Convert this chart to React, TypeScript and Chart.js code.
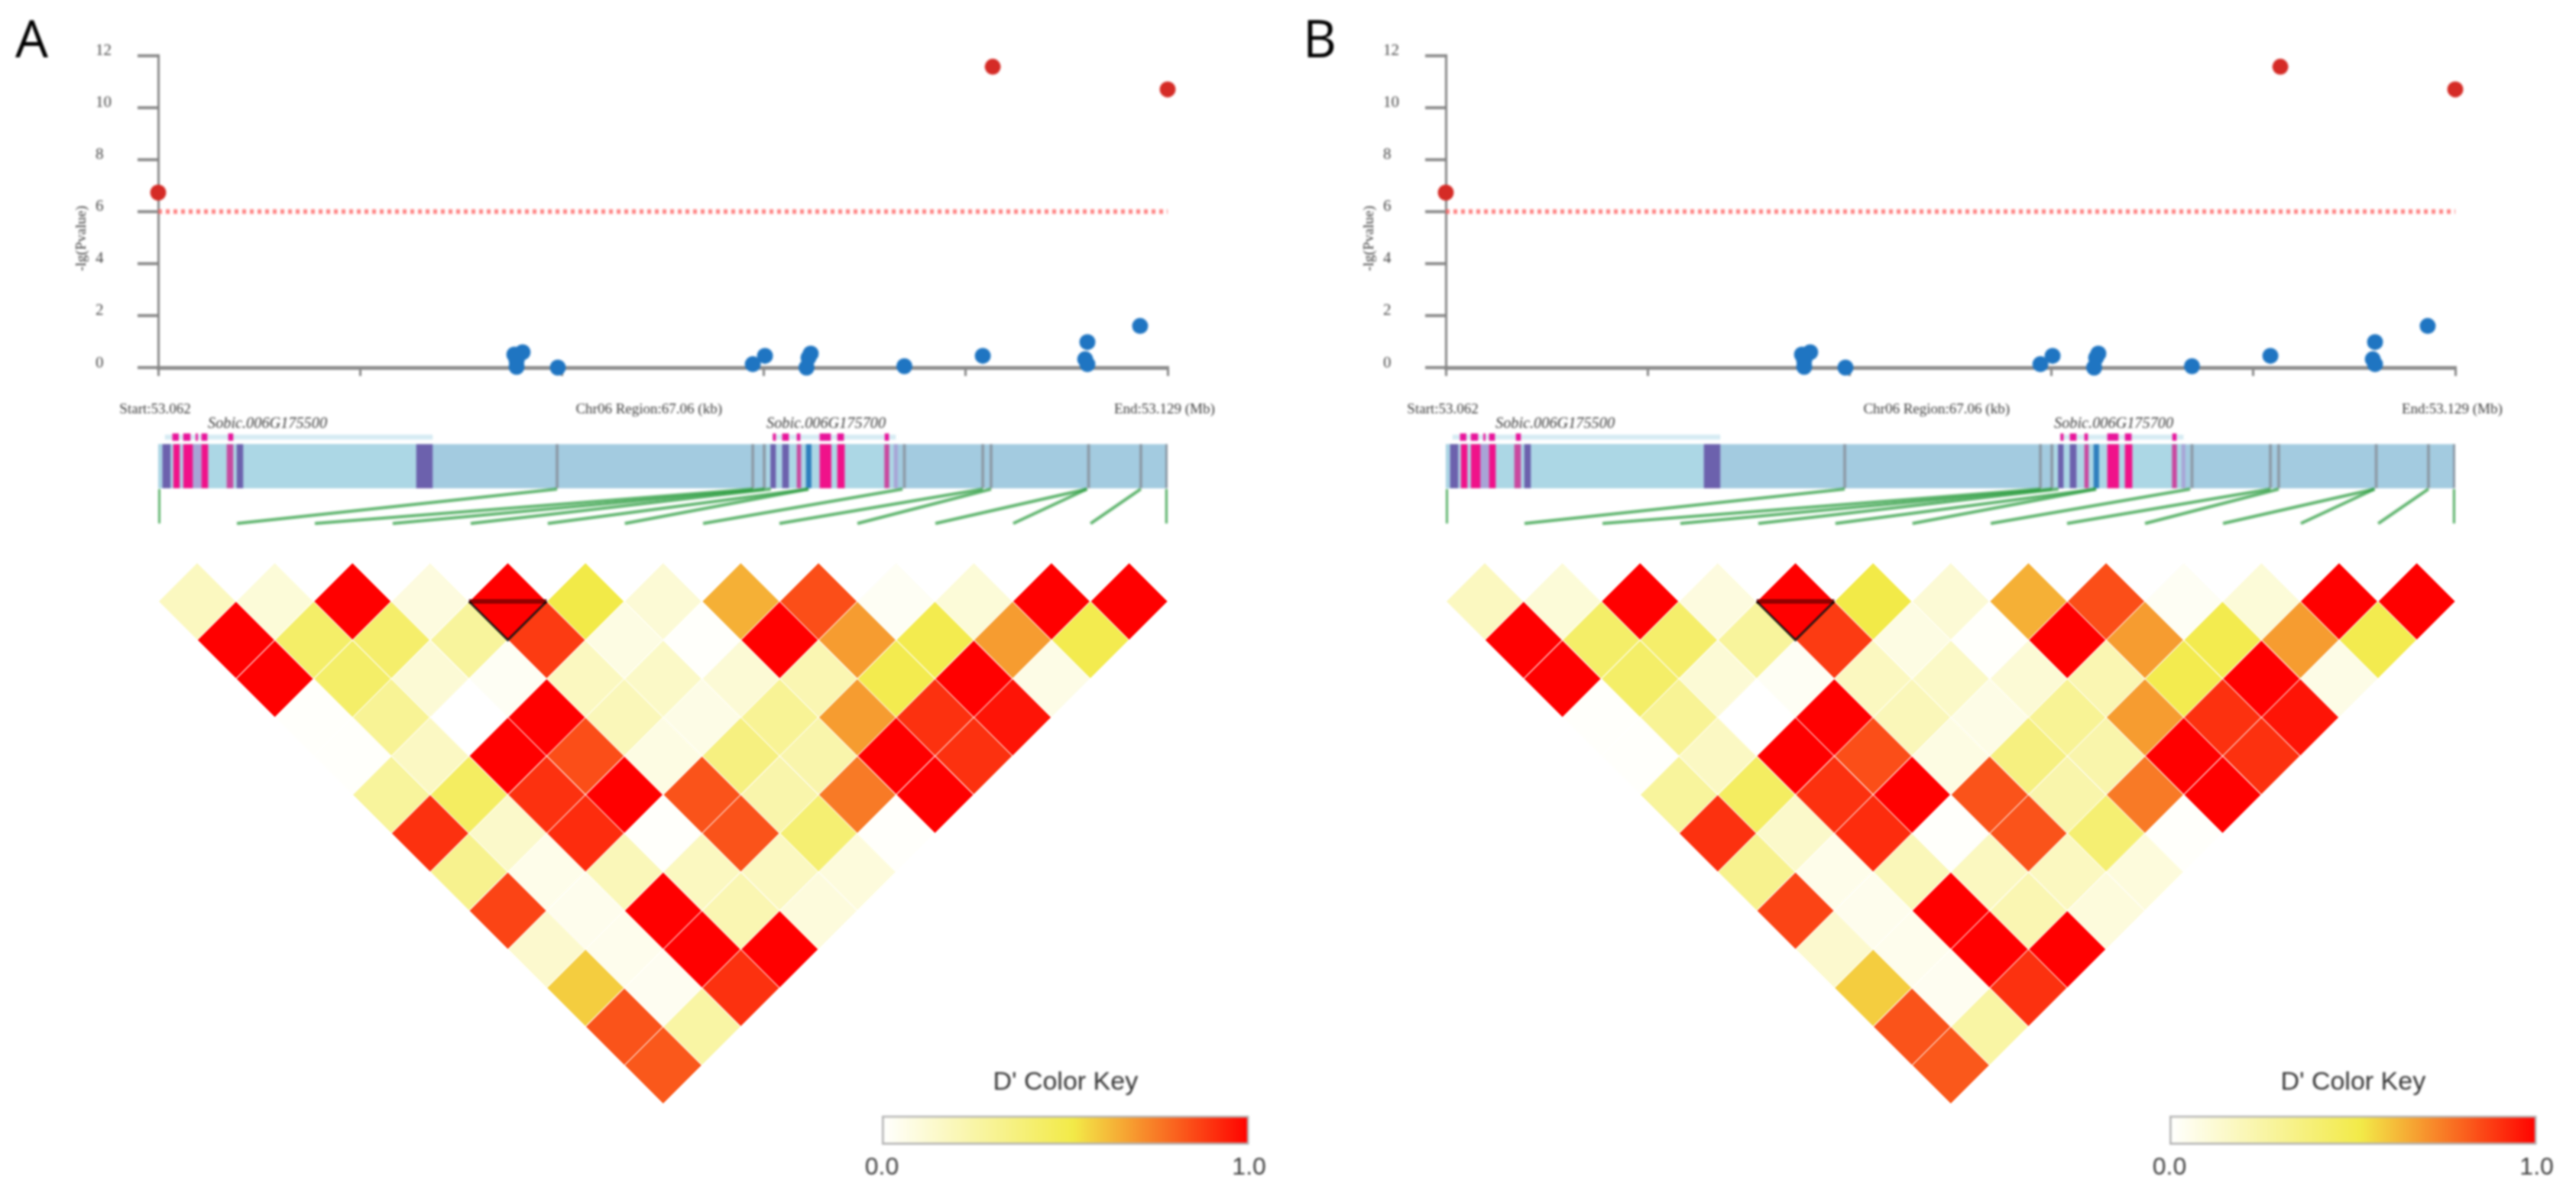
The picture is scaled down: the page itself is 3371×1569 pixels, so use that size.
import React, { useEffect, useRef } from "react";
import { Chart, registerables } from "chart.js";

Chart.register(...registerables);

// ---- Manhattan data (x: kb from region start, y: -lg(Pvalue)) ----
const sigKb = [0, 55.44, 67.06];
const sigP = [6.73, 11.57, 10.7];
const nsKb = [23.66, 24.21, 23.81, 23.81, 26.55, 39.5, 40.31, 43.35, 43.2, 43.07, 49.57, 54.78, 61.73, 61.58, 61.73, 65.23];
const nsP = [0.5, 0.59, 0.27, 0.03, 0.0, 0.13, 0.45, 0.54, 0.38, 0.0, 0.05, 0.45, 0.98, 0.32, 0.13, 1.6];
const threshold = 6;
const regionKb = 67.06;
const xTicks = [0, 13.41, 26.82, 40.24, 53.65, 67.06];
const startLabel = "Start:53.062";
const regionLabel = "Chr06 Region:67.06 (kb)";
const endLabel = "End:53.129 (Mb)";
const yTitle = "-lg(Pvalue)";
const startLabelKb = -0.2;
const regionLabelKb = 32.6;
const endLabelKb = 66.85;

// ---- Gene track data, [startKb, endKb] ----
const gene1Span = [0.05, 18.22];
const gene2Span = [40.41, 48.99];
const gene1Name = "Sobic.006G175500";
const gene2Name = "Sobic.006G175700";
const gene1NameKb = 7.26;
const gene2NameKb = 44.37;
const bandSpans = [[0.46, 18.22], [40.81, 48.99]];
const markerSpans = [[0.96, 1.35], [1.68, 2.13], [2.51, 2.62], [2.89, 3.25], [4.67, 4.97], [40.85, 41.02], [41.47, 41.88], [42.44, 42.64], [43.96, 44.67], [45.13, 45.54], [48.28, 48.53]];
const pinkSpans = [[1.02, 1.42], [1.68, 2.28], [2.89, 3.3], [43.96, 44.7], [45.13, 45.59]];
const purpleSpans = [[0.3, 0.81], [5.23, 5.63], [17.16, 18.22], [40.69, 41.02], [41.47, 41.88]];
const orchidSpans = [[4.57, 4.97], [42.44, 42.69], [48.26, 48.55]];
const paleSpans = [[2.28, 2.84], [48.89, 49.11]];
const blueSpans = [[43.05, 43.38]];
const snpKb = [26.5, 39.5, 40.26, 49.57, 54.78, 55.33, 61.81, 65.28, 67.0];
const connectorFromKb = [0.05, 26.5, 39.5, 40.26, 40.7, 43.2, 43.2, 49.45, 54.78, 55.33, 61.7, 61.7, 65.28, 67.0];
const connectorToKb = [0.05, 5.23, 10.41, 15.58, 20.76, 25.88, 31.0, 36.2, 41.27, 46.45, 51.63, 56.8, 61.94, 67.0];

// ---- LD heat map, D' by row (row 0 is the top row) ----
const ldRows = [
  [0.18, 0.11, 1, 0.09, 1, 0.52, 0.12, 0.64, 0.84, 0.03, 0.11, 1, 1],
  [1, 0.43, 0.42, 0.28, 0.88, 0.08, 0.01, 1, 0.68, 0.5, 0.68, 0.5],
  [1, 0.43, 0.12, 0.03, 0.18, 0.16, 0.12, 0.22, 0.5, 1, 0.07],
  [0.01, 0.3, 0.0, 1, 0.2, 0.07, 0.3, 0.68, 0.9, 0.96],
  [0.01, 0.17, 1, 0.84, 0.08, 0.36, 0.24, 1, 0.9],
  [0.28, 0.45, 0.9, 1, 0.83, 0.24, 0.75, 1],
  [0.9, 0.15, 0.91, 0.01, 0.83, 0.4, 0.01],
  [0.32, 0.06, 0.2, 0.18, 0.18, 0.1],
  [0.86, 0.05, 1, 0.22, 0.1],
  [0.14, 0.05, 1, 1],
  [0.58, 0.04, 0.9],
  [0.83, 0.26],
  [0.82],
];
const blockTopRow = [[3.5, 0], [4.5, 0]];
const blockSides = [[3.5, 0], [4, 1], [4.5, 0]];

// ---- Colour key ----
const keyTitle = "D' Color Key";
const keyTicks = [0, 1];
const keyStops: [number, string][] = [[0, "#ffffff"], [0.52, "#f2ea48"], [1, "#ff0000"]];

const panels = [
  { label: "A", left: 0 },
  { label: "B", left: 1685 },
];

const SERIF = "'Liberation Serif', serif";
const SANS = "'Liberation Sans', sans-serif";

function dPrimeColor(v: number): string {
  const lo = [255, 255, 255];
  const mid = [242, 234, 72];
  const hi = [255, 0, 0];
  const t = v < 0.52 ? v / 0.52 : (v - 0.52) / 0.48;
  const a = v < 0.52 ? lo : mid;
  const b = v < 0.52 ? mid : hi;
  const c = a.map((x, i) => Math.round(x + (b[i] - x) * t));
  return `rgb(${c[0]},${c[1]},${c[2]})`;
}

function manhattan(canvas: HTMLCanvasElement, label: string) {
  const textPlugin = {
    id: "manhattanText",
    afterDraw(chart: any) {
      const { ctx, scales } = chart;
      const px = (k: number) => scales.x.getPixelForValue(k);
      ctx.save();
      ctx.fillStyle = "#3a3a3a";
      ctx.textBaseline = "middle";
      ctx.textAlign = "center";
      ctx.font = `19px ${SERIF}`;
      ctx.fillText(startLabel, px(startLabelKb), 536);
      ctx.fillText(regionLabel, px(regionLabelKb), 536);
      ctx.fillText(endLabel, px(endLabelKb), 536);
      ctx.save();
      ctx.translate(107, 312);
      ctx.rotate(-Math.PI / 2);
      ctx.fillText(yTitle, 0, 0);
      ctx.restore();
      ctx.fillStyle = "#000";
      ctx.textAlign = "left";
      ctx.font = `68px 'Open Sans', sans-serif`;
      ctx.fillText(label, 20, 56);
      ctx.restore();
    },
  };
  return new Chart(canvas, {
    type: "scatter",
    data: {
      datasets: [
        { label: "sig", data: sigKb.map((x, i) => ({ x, y: sigP[i] })), backgroundColor: "#d52b26", borderWidth: 0, pointRadius: 10.5, clip: false },
        { label: "ns", data: nsKb.map((x, i) => ({ x, y: nsP[i] })), backgroundColor: "#1f75c2", borderWidth: 0, pointRadius: 10.5, clip: false },
        { label: "threshold", data: [{ x: 0, y: threshold }, { x: regionKb, y: threshold }], showLine: true, pointRadius: 0, borderColor: "rgba(255,90,90,0.75)", borderWidth: 6, borderDash: [5, 5] },
      ],
    },
    options: {
      animation: false,
      responsive: false,
      devicePixelRatio: 1,
      layout: { padding: { left: 125, top: 72.7, right: 158, bottom: 0 } },
      plugins: { legend: { display: false }, tooltip: { enabled: false } },
      scales: {
        x: {
          type: "linear",
          min: 0,
          max: regionKb,
          afterBuildTicks: (a: any) => { a.ticks = xTicks.map((value) => ({ value })); },
          afterFit: (a: any) => { a.height = 69; },
          grid: { drawOnChartArea: false, color: "#858585", lineWidth: 3, tickLength: 11 },
          border: { color: "#8c8c8c", width: 5 },
          ticks: { display: false },
        },
        y: {
          type: "linear",
          min: 0,
          max: 12,
          afterFit: (a: any) => { a.width = 82; },
          grid: { drawOnChartArea: false, color: "#8c8c8c", lineWidth: 4, tickLength: 27 },
          border: { color: "#858585", width: 3 },
          ticks: { stepSize: 2, crossAlign: "far", labelOffset: -6, color: "#444", font: { family: SERIF, size: 21 } },
        },
      },
    } as any,
    plugins: [textPlugin],
  });
}

function spanBars(spans: number[][], level: number, color: string, thickness: number) {
  return {
    type: "bar",
    indexAxis: "y",
    grouped: false,
    data: spans.map((s) => ({ y: level, x: [s[0], s[1]] })),
    backgroundColor: color,
    barThickness: thickness,
    borderWidth: 0,
  };
}

function geneTrack(canvas: HTMLCanvasElement) {
  const namesPlugin = {
    id: "geneNames",
    afterDraw(chart: any) {
      const { ctx, scales } = chart;
      ctx.save();
      ctx.fillStyle = "#3a3a3a";
      ctx.textAlign = "center";
      ctx.textBaseline = "middle";
      ctx.font = `italic 20.3px ${SERIF}`;
      ctx.fillText(gene1Name, scales.x.getPixelForValue(gene1NameKb), scales.y.getPixelForValue(1.04));
      ctx.fillText(gene2Name, scales.x.getPixelForValue(gene2NameKb), scales.y.getPixelForValue(1.04));
      ctx.restore();
    },
  };
  const trackLevel = 0.615;
  const markerLevel = 0.908;
  const snpSpans = snpKb.map((k) => [k - 0.08, k + 0.08]);
  const connectors = connectorFromKb.map((k, i) => ({
    type: "scatter",
    showLine: true,
    data: [{ x: k, y: 0.385 }, { x: connectorToKb[i], y: 0.038 }],
    borderColor: "rgba(40,155,60,0.75)",
    borderWidth: 4,
    pointRadius: 0,
  }));
  return new Chart(canvas, {
    data: {
      datasets: [
        ...connectors,
        spanBars(markerSpans, markerLevel, "#e8149a", 9),
        spanBars(pinkSpans, trackLevel, "#f0128a", 57),
        spanBars(purpleSpans, trackLevel, "#6c61ad", 57),
        spanBars(orchidSpans, trackLevel, "#c9489f", 57),
        spanBars(blueSpans, trackLevel, "#2f7fbe", 57),
        spanBars(paleSpans, trackLevel, "#a8a4d6", 57),
        spanBars(snpSpans, trackLevel, "#8c9aa6", 57),
        spanBars(bandSpans, markerLevel, "#d6ebf3", 6),
        spanBars([gene1Span, gene2Span], trackLevel, "#acd7e5", 57),
        spanBars([[0, regionKb]], trackLevel, "#a3cbe0", 57),
      ],
    } as any,
    options: {
      animation: false,
      responsive: false,
      devicePixelRatio: 1,
      layout: { padding: { left: 207, top: 15, right: 158, bottom: 10 } },
      plugins: { legend: { display: false }, tooltip: { enabled: false } },
      scales: {
        x: { type: "linear", min: 0, max: regionKb, display: false, offset: false },
        y: { type: "linear", min: 0, max: 1, display: false, offset: false },
      },
    } as any,
    plugins: [namesPlugin],
  });
}

function ldMap(canvas: HTMLCanvasElement) {
  const cells = ldRows.flatMap((row, r) => row.map((v, c) => ({ x: c + r / 2, y: r, v })));
  const toPts = (a: number[][]) => a.map((p) => ({ x: p[0], y: p[1] }));
  return new Chart(canvas, {
    type: "scatter",
    data: {
      datasets: [
        { data: toPts(blockSides), showLine: true, pointRadius: 0, borderColor: "rgba(0,0,0,0.8)", borderWidth: 3, clip: false },
        { data: toPts(blockTopRow), showLine: true, pointRadius: 0, borderColor: "rgba(120,0,0,0.8)", borderWidth: 6, clip: false },
        {
          data: cells,
          pointStyle: "rectRot",
          pointRadius: 50,
          pointBorderColor: "#ffffff",
          pointBorderWidth: 0,
          pointBackgroundColor: cells.map((c) => dPrimeColor(c.v)),
          clip: false,
        },
      ],
    } as any,
    options: {
      animation: false,
      responsive: false,
      devicePixelRatio: 1,
      // canvas starts at y=720; row 0 centre is at 787
      layout: { padding: { left: 258, top: 67, right: 1686 - 1477.6, bottom: 1569 - 720 - 674 } },
      plugins: { legend: { display: false }, tooltip: { enabled: false } },
      scales: {
        x: { type: "linear", min: 0, max: 12, display: false },
        y: { type: "linear", min: 0, max: 12, reverse: true, display: false },
      },
    } as any,
  });
}

function colorKey(canvas: HTMLCanvasElement) {
  const gradient = (ctx: any) => {
    const area = ctx.chart.chartArea;
    if (!area) return "#ffffff";
    const g = ctx.chart.ctx.createLinearGradient(area.left, 0, area.right, 0);
    keyStops.forEach(([p, c]) => g.addColorStop(p, c));
    return g;
  };
  return new Chart(canvas, {
    type: "bar",
    data: {
      labels: ["key"],
      datasets: [{ data: [[0, 1]], backgroundColor: gradient, borderColor: "#b4b4b4", borderWidth: 3, borderSkipped: false, barPercentage: 1, categoryPercentage: 1 }],
    },
    options: {
      indexAxis: "y",
      animation: false,
      responsive: false,
      devicePixelRatio: 1,
      layout: { padding: { left: 54, right: 1686 - 1100 - 534.6, top: 0, bottom: 0 } },
      plugins: {
        legend: { display: false },
        tooltip: { enabled: false },
        title: { display: true, text: keyTitle, color: "#333", font: { family: SANS, size: 34, weight: "normal" }, padding: { top: 16, bottom: 23 } },
      },
      scales: {
        x: {
          type: "linear",
          min: 0,
          max: 1,
          afterBuildTicks: (a: any) => { a.ticks = keyTicks.map((value) => ({ value })); },
          afterFit: (a: any) => { a.height = 62; },
          grid: { display: false },
          border: { display: false },
          ticks: { autoSkip: false, maxRotation: 0, padding: 3, color: "#3c3c3c", font: { family: SANS, size: 32 }, callback: (v: any) => Number(v).toFixed(1) },
        },
        y: { display: false },
      },
    } as any,
  });
}

const canvasStyle = (left: number, top: number, blur: number): React.CSSProperties => ({
  position: "absolute",
  left,
  top,
  filter: `blur(${blur}px)`,
});

export default function App() {
  const refs = useRef<(HTMLCanvasElement | null)[]>([]);
  useEffect(() => {
    const charts: Chart[] = [];
    panels.forEach((p, i) => {
      const base = i * 4;
      charts.push(manhattan(refs.current[base]!, p.label));
      charts.push(geneTrack(refs.current[base + 1]!));
      charts.push(ldMap(refs.current[base + 2]!));
      charts.push(colorKey(refs.current[base + 3]!));
    });
    return () => charts.forEach((c) => c.destroy());
  }, []);
  return (
    <div style={{ position: "absolute", left: 0, top: 0, width: 3371, height: 1569, overflow: "hidden", background: "#fff" }}>
      {panels.map((p, i) => (
        <React.Fragment key={p.label}>
          <canvas ref={(el) => { refs.current[i * 4] = el; }} width={1686} height={550} style={canvasStyle(p.left, 0, 1.5)} />
          <canvas ref={(el) => { refs.current[i * 4 + 1] = el; }} width={1686} height={155} style={canvasStyle(p.left, 545, 1.5)} />
          <canvas ref={(el) => { refs.current[i * 4 + 2] = el; }} width={1686} height={849} style={canvasStyle(p.left, 720, 1)} />
          <canvas ref={(el) => { refs.current[i * 4 + 3] = el; }} width={586} height={180} style={canvasStyle(p.left + 1100, 1380, 1.5)} />
        </React.Fragment>
      ))}
    </div>
  );
}
